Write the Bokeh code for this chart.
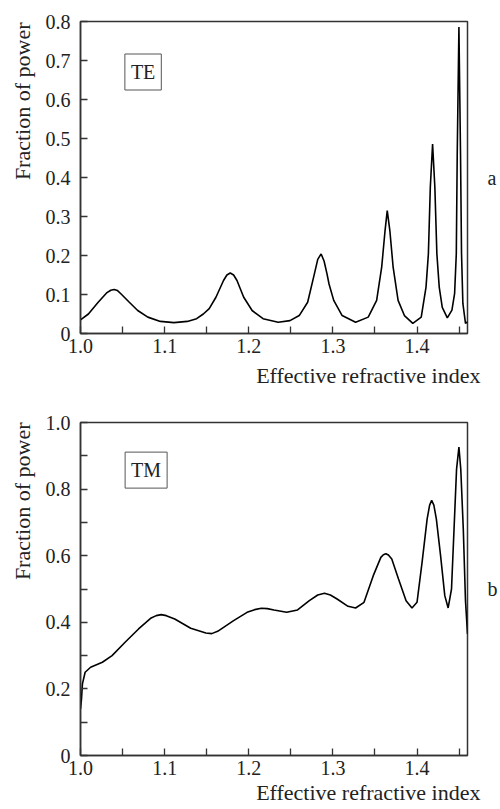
from bokeh.plotting import figure
from bokeh.layouts import column
from bokeh.models import Label, FixedTicker, Range1d, LinearAxis, Title
from bokeh.embed import file_html
from bokeh.resources import INLINE

# ---- data ----
te_n = [1.000, 1.0094, 1.021, 1.031, 1.036, 1.040, 1.044, 1.048, 1.058, 1.068,
        1.080, 1.095, 1.111, 1.127, 1.138, 1.146, 1.153, 1.161, 1.170, 1.174,
        1.178, 1.182, 1.186, 1.194, 1.204, 1.217, 1.235, 1.249, 1.260, 1.270,
        1.278, 1.282, 1.286, 1.2895, 1.293, 1.2954, 1.301, 1.311, 1.327, 1.342,
        1.352, 1.358, 1.362, 1.3646, 1.3677, 1.3716, 1.3775, 1.385, 1.395, 1.405,
        1.4107, 1.4135, 1.4158, 1.4185, 1.4212, 1.4236, 1.4264, 1.430, 1.436, 1.4415,
        1.4447, 1.4467, 1.4478, 1.4498, 1.4517, 1.4529, 1.4545, 1.4576, 1.460]
te_f = [0.035, 0.050, 0.080, 0.104, 0.111, 0.113, 0.110, 0.102, 0.080, 0.059,
        0.042, 0.031, 0.028, 0.031, 0.038, 0.050, 0.064, 0.093, 0.136, 0.150,
        0.155, 0.150, 0.136, 0.093, 0.059, 0.038, 0.029, 0.033, 0.046, 0.080,
        0.153, 0.190, 0.204, 0.186, 0.153, 0.127, 0.085, 0.046, 0.029, 0.042,
        0.085, 0.170, 0.264, 0.315, 0.264, 0.170, 0.085, 0.046, 0.026, 0.042,
        0.119, 0.204, 0.375, 0.486, 0.375, 0.204, 0.119, 0.067, 0.040, 0.060,
        0.103, 0.205, 0.461, 0.786, 0.461, 0.205, 0.077, 0.026, 0.030]

tm_n = [1.000, 1.0012, 1.0023, 1.0055, 1.012, 1.026, 1.0375, 1.053, 1.069, 1.084,
        1.090, 1.096, 1.102, 1.112, 1.131, 1.149, 1.156, 1.163, 1.182, 1.198,
        1.207, 1.215, 1.222, 1.230, 1.245, 1.258, 1.272, 1.282, 1.290, 1.297,
        1.305, 1.318, 1.327, 1.337, 1.348, 1.357, 1.360, 1.363, 1.366, 1.370,
        1.378, 1.387, 1.394, 1.400, 1.406, 1.412, 1.415, 1.4174, 1.420, 1.423,
        1.428, 1.433, 1.437, 1.441, 1.444, 1.447, 1.4498, 1.452, 1.455, 1.4576,
        1.460]
tm_f = [0.140, 0.170, 0.215, 0.250, 0.265, 0.280, 0.300, 0.340, 0.380, 0.413,
        0.420, 0.423, 0.420, 0.410, 0.382, 0.368, 0.366, 0.373, 0.405, 0.430,
        0.438, 0.442, 0.441, 0.437, 0.430, 0.437, 0.465, 0.482, 0.487, 0.482,
        0.470, 0.448, 0.443, 0.460, 0.540, 0.595, 0.603, 0.606, 0.602, 0.590,
        0.530, 0.465, 0.443, 0.460, 0.580, 0.710, 0.752, 0.766, 0.752, 0.710,
        0.600, 0.480, 0.443, 0.500, 0.680, 0.860, 0.926, 0.860, 0.680, 0.465,
        0.365]

x_major = [1.0, 1.1, 1.2, 1.3, 1.4]
x_major_labels = ["1.0", "1.1", "1.2", "1.3", "1.4"]
x_minor = [1.05, 1.15, 1.25, 1.35, 1.45]

te_y_major = [0, 0.1, 0.2, 0.3, 0.4, 0.5, 0.6, 0.7, 0.8]
te_y_labels = ["0", "0.1", "0.2", "0.3", "0.4", "0.5", "0.6", "0.7", "0.8"]

tm_y_major = [0, 0.2, 0.4, 0.6, 0.8, 1.0]
tm_y_labels = ["0", "0.2", "0.4", "0.6", "0.8", "1.0"]
tm_y_minor = [0.1, 0.3, 0.5, 0.7, 0.9]

x_label = "Effective refractive index"
y_label = "Fraction of power"

SERIF = "Liberation Serif"
AX = "#333333"
TXT = "#222222"


def make_panel(height, top_b, bot_b, y_end, y_major, y_labels, y_minor,
               xs, ys, tag, tag_xy, letter, xlab_standoff, ylab_offset):
    p = figure(width=500, height=height, output_backend="svg",
               toolbar_location=None, x_range=Range1d(1.0, 1.46),
               y_range=Range1d(0, y_end),
               min_border_left=78, min_border_right=30,
               min_border_top=top_b, min_border_bottom=bot_b)
    p.grid.grid_line_color = None
    p.outline_line_color = AX
    p.outline_line_width = 1.5
    p.background_fill_color = "white"
    p.border_fill_color = "white"

    p.xaxis.ticker = FixedTicker(ticks=x_major, minor_ticks=x_minor)
    p.xaxis.major_label_overrides = {t: l for t, l in zip(x_major, x_major_labels)}
    p.yaxis.ticker = FixedTicker(ticks=y_major, minor_ticks=y_minor)
    p.yaxis.major_label_overrides = {t: l for t, l in zip(y_major, y_labels)}

    for ax in (p.xaxis, p.yaxis):
        ax.axis_line_color = AX
        ax.axis_line_width = 1.5
        ax.major_tick_line_color = AX
        ax.minor_tick_line_color = AX
        ax.major_tick_line_width = 1.3
        ax.minor_tick_line_width = 1.3
        ax.major_tick_in = 7
        ax.major_tick_out = 0
        ax.minor_tick_in = 7
        ax.minor_tick_out = 0
        ax.major_label_text_font = SERIF
        ax.major_label_text_font_size = "20px"
        ax.major_label_text_color = TXT
    p.xaxis.major_label_standoff = 5
    p.yaxis.major_label_standoff = 10

    # right-side letter (a / b) as the label of a bare axis
    rax = LinearAxis(ticker=FixedTicker(ticks=[]), axis_label=letter,
                     axis_label_orientation="horizontal",
                     axis_label_standoff=20, major_label_standoff=0,
                     axis_line_color=None, major_tick_line_color=None,
                     minor_tick_line_color=None,
                     major_label_text_font_size="0px",
                     axis_label_text_font=SERIF,
                     axis_label_text_font_size="20px",
                     axis_label_text_font_style="normal",
                     axis_label_text_color=TXT)
    p.add_layout(rax, "right")

    p.add_layout(Title(text=y_label, align="right", offset=ylab_offset,
                       text_font=SERIF, text_font_size="22px",
                       text_font_style="normal", text_color=TXT,
                       standoff=15), "left")
    p.add_layout(Title(text=x_label, align="right", offset=-13,
                       text_font=SERIF, text_font_size="22px",
                       text_font_style="normal", text_color=TXT,
                       standoff=xlab_standoff), "below")

    p.line(xs, ys, line_color="black", line_width=1.6)

    p.add_layout(Label(x=tag_xy[0], y=tag_xy[1], text=tag, text_align="center",
                       text_baseline="middle", text_font=SERIF,
                       text_font_size="20px", text_color=TXT,
                       border_line_color="#555555", border_line_width=1,
                       background_fill_color="white", padding=(6, 7)))
    return p


p1 = make_panel(398, 21, 65, 0.8, te_y_major, te_y_labels, [],
                te_n, te_f, "TE", (1.0744, 0.6705), "a", 11, 1)
p2 = make_panel(407, 24, 50, 1.0, tm_y_major, tm_y_labels, tm_y_minor,
                tm_n, tm_f, "TM", (1.078, 0.857), "b", 0, 0)

layout = column(p1, p2, spacing=0)
open("out.html", "w").write(file_html(layout, INLINE))
